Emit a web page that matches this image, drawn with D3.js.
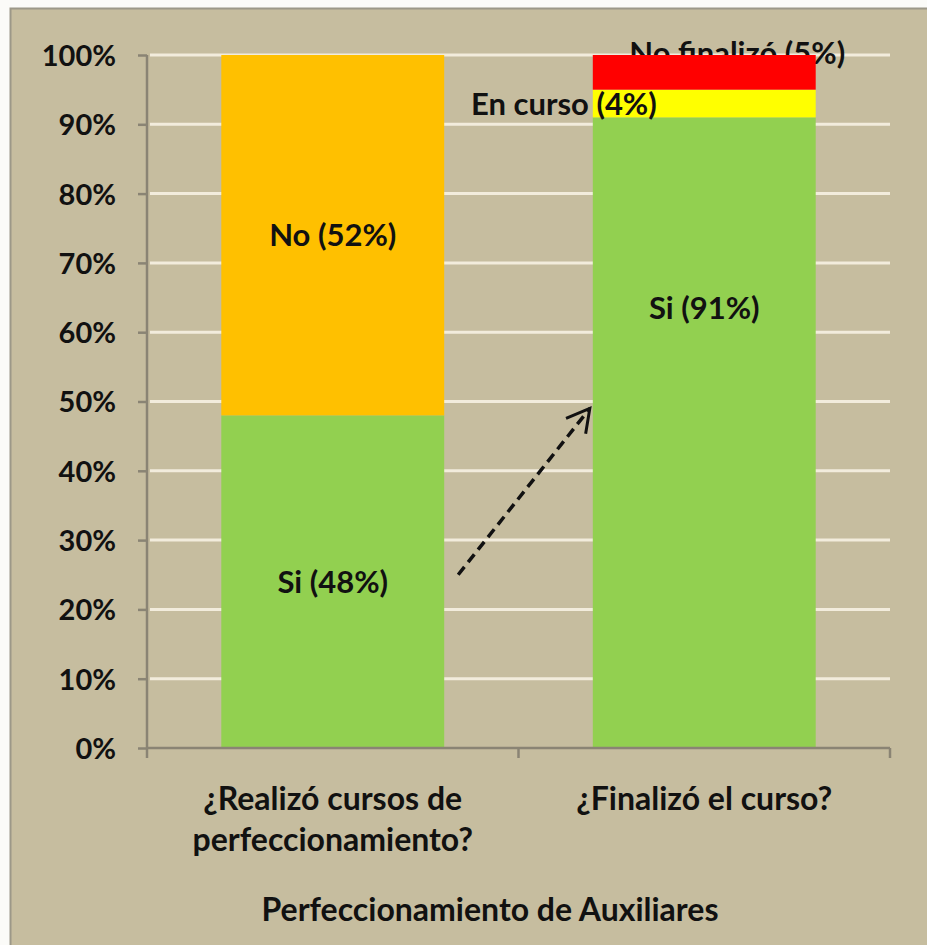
<!DOCTYPE html>
<head>
<meta charset="utf-8">
<script src="https://d3js.org/d3.v7.min.js"></script>
<style>
  body { margin:0; background:#fbfbf8; }
  text { font-family: Lato, 'Open Sans', sans-serif; font-weight: bold; fill: #111; }
</style>
</head>
<body>
<svg id="chart" width="927" height="945"></svg>
<script>
var categories = ["¿Realizó cursos de|perfeccionamiento?", "¿Finalizó el curso?"];
var segNames = [["Si", "No"], ["Si", "En curso", "No finalizó"]];
var segValues = [[48, 52], [91, 4, 5]];
var segColors = [["#92d050", "#ffc000"], ["#92d050", "#ffff00", "#ff0000"]];
var yTicks = [0, 10, 20, 30, 40, 50, 60, 70, 80, 90, 100];
var axisTitle = "Perfeccionamiento de Auxiliares";
var arrowFrom = 25, arrowTo = 49;

var svg = d3.select("#chart");
var margin = {left: 147, right: 37, top: 55, bottom: 197};
var width = 927 - margin.left - margin.right,
    height = 945 - margin.top - margin.bottom;
var fs = 31;

// chart box
svg.append("rect").attr("x", 10.5).attr("y", 8.5).attr("width", 930).attr("height", 950)
  .attr("fill", "#c6bd9f").attr("stroke", "#9c9888").attr("stroke-width", 2);

var g = svg.append("g").attr("transform", "translate(" + margin.left + "," + margin.top + ")");

var x = d3.scaleBand().domain(categories).range([0, width]).paddingInner(0.4).paddingOuter(0.2);
var y = d3.scaleLinear().domain([0, 100]).range([height, 0]);
var band = d3.scaleBand().domain(categories).range([0, width]);

// gridlines
g.selectAll(".grid").data(yTicks.slice(1)).enter().append("line")
  .attr("x1", 3).attr("x2", width).attr("y1", d => y(d)).attr("y2", d => y(d))
  .attr("stroke", "#f2ecdc").attr("stroke-width", 3);

var labelLayer = [], hidden = [];
categories.forEach(function(c, i) {
  var acc = 0;
  var segs = segValues[i].map(function(v, j) {
    var s = {y0: acc, y1: acc + v, name: segNames[i][j], color: segColors[i][j], v: v};
    acc += v; return s;
  });
  var bx = x(c), bw = x.bandwidth(), cx = bx + bw / 2;
  segs.forEach(function(s, j) {
    var lab = s.name + " (" + s.v + "%)";
    if (s.v >= 10) {
      // the tall green bar in the second column has its label higher up, as in the original
      var mid = (i === 1 && j === 0) ? 63.5 : (s.y0 + s.y1) / 2;
      labelLayer.push({x: cx, y: y(mid) + 11, anchor: "middle", t: lab});
    } else if (j === segs.length - 1) {
      hidden.push({x: cx + 33, y: y(s.y1) + 9, anchor: "middle", t: lab});
    } else {
      labelLayer.push({x: bx + 64, y: y((s.y0 + s.y1) / 2) + 11, anchor: "end", t: lab});
    }
  });
  // label that sits partly under the red segment
  g.selectAll(null).data(hidden.splice(0)).enter().append("text")
    .attr("x", d => d.x).attr("y", d => d.y).attr("text-anchor", d => d.anchor)
    .attr("font-size", fs).text(d => d.t);
  g.selectAll(null).data(segs).enter().append("rect")
    .attr("x", bx).attr("width", bw)
    .attr("y", d => y(d.y1)).attr("height", d => y(d.y0) - y(d.y1))
    .attr("fill", d => d.color);
});
g.selectAll(null).data(labelLayer).enter().append("text")
  .attr("x", d => d.x).attr("y", d => d.y).attr("text-anchor", d => d.anchor)
  .attr("font-size", fs).text(d => d.t);

// axes
var yAxis = d3.axisLeft(y).tickValues(yTicks).tickFormat(d => d + "%").tickSize(9).tickPadding(22);
var ga = g.append("g").call(yAxis);
ga.select(".domain").attr("stroke", "#8a8474").attr("stroke-width", 2.5).attr("d", "M0,0V" + height);
ga.selectAll(".tick line").attr("stroke", "#8a8474").attr("stroke-width", 2.5);
ga.selectAll("text").attr("font-size", 29).attr("fill", "#111").attr("dy", "0.36em");

var gx = g.append("g").attr("transform", "translate(0," + height + ")");
gx.append("line").attr("x1", 0).attr("x2", width).attr("stroke", "#8a8474").attr("stroke-width", 2.5);
gx.selectAll(".tk").data([0].concat(categories.map(c => band(c) + band.bandwidth()))).enter().append("line")
  .attr("x1", d => d).attr("x2", d => d).attr("y1", 0).attr("y2", 10)
  .attr("stroke", "#8a8474").attr("stroke-width", 2.5);
categories.forEach(function(c) {
  var lines = c.split("|");
  var t = gx.append("text").attr("text-anchor", "middle").attr("font-size", 32)
    .attr("x", band(c) + band.bandwidth() / 2).attr("y", 62);
  lines.forEach(function(l, k) {
    t.append("tspan").attr("x", band(c) + band.bandwidth() / 2).attr("dy", k ? 41 : 0).text(l);
  });
});
gx.append("text").attr("text-anchor", "middle").attr("font-size", 32)
  .attr("x", 343).attr("y", 173).text(axisTitle);

// arrow
svg.append("defs").append("marker").attr("id", "ah").attr("viewBox", "0 0 12 12")
  .attr("refX", 10).attr("refY", 6).attr("orient", "auto").attr("markerUnits", "userSpaceOnUse")
  .attr("markerWidth", 30).attr("markerHeight", 30)
  .append("path").attr("d", "M1,1 L10,6 L1,11").attr("fill", "none").attr("stroke", "#111").attr("stroke-width", 1.2);
var c0 = categories[0], c1 = categories[1];
g.append("line")
  .attr("x1", x(c0) + x.bandwidth() + 14).attr("y1", y(arrowFrom))
  .attr("x2", x(c1) - 3).attr("y2", y(arrowTo))
  .attr("stroke", "#111").attr("stroke-width", 3.5).attr("stroke-dasharray", "10,6")
  .attr("marker-end", "url(#ah)");
</script>
</body>
